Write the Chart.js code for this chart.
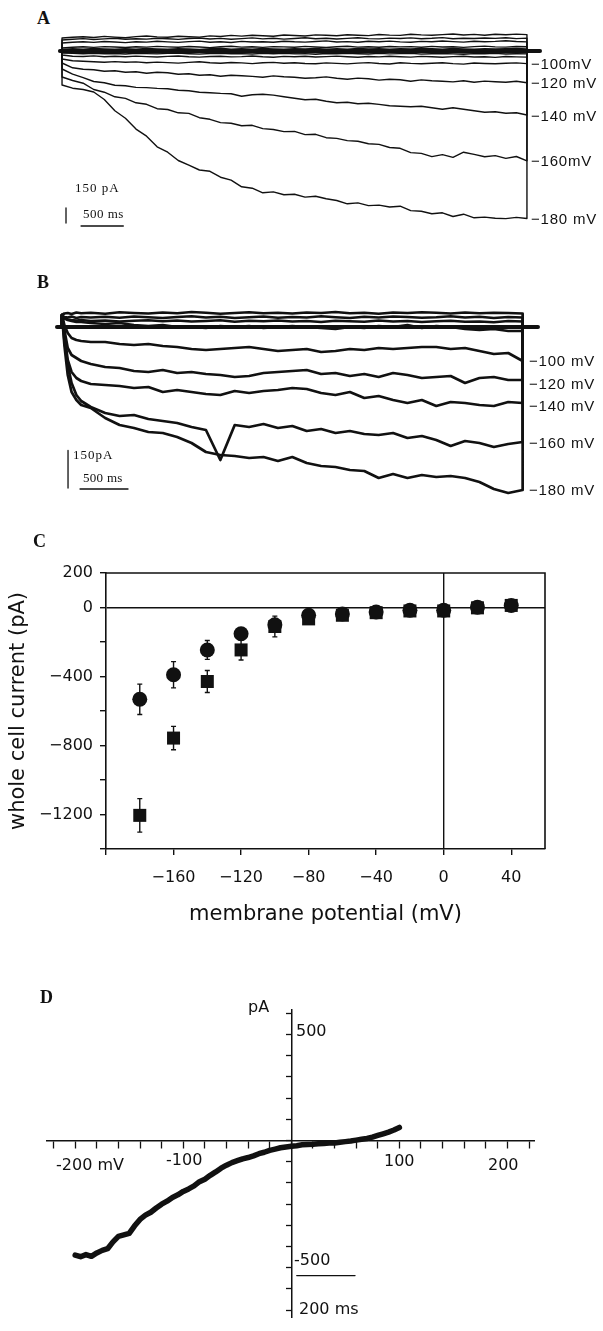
<!DOCTYPE html>
<html>
<head>
<meta charset="utf-8">
<script src="https://cdn.jsdelivr.net/npm/chart.js@4.4.1/dist/chart.umd.min.js"></script>
<style>
  html, body { margin: 0; padding: 0; background: #fff; }
  #page { position: relative; width: 603px; height: 1331px; overflow: hidden; background: #fff; }
  #page canvas { position: absolute; }
  .lbl { position: absolute; line-height: 1; white-space: nowrap; color: #111; }
  .panel { font: bold 18px "Liberation Serif", serif; }
  .mv { font: 15px "Liberation Sans", Arial, sans-serif; letter-spacing: 0.8px; }
  .bar { font: 13px "Liberation Serif", serif; letter-spacing: 1px; }
  .dj { font: 16px "DejaVu Sans", sans-serif; }
</style>
</head>
<body>
<div id="page">
  <canvas id="chartA" width="500" height="205" style="left:54px;top:26px"></canvas>
  <canvas id="chartB" width="500" height="200" style="left:52px;top:300px"></canvas>
  <canvas id="chartC" width="603" height="374" style="left:0;top:555px"></canvas>
  <canvas id="chartD" width="489" height="328" style="left:46px;top:1000px"></canvas>

  <div class="lbl panel" style="left:37px;top:8px">A</div>
  <div class="lbl mv" style="left:531px;top:55px">−100mV</div>
  <div class="lbl mv" style="left:531px;top:74px">−120 mV</div>
  <div class="lbl mv" style="left:531px;top:107px">−140 mV</div>
  <div class="lbl mv" style="left:531px;top:152px">−160mV</div>
  <div class="lbl mv" style="left:531px;top:210px">−180 mV</div>
  <div class="lbl bar" style="left:75px;top:180px">150 pA</div>
  <div class="lbl bar" style="left:83px;top:206px;letter-spacing:0.5px">500 ms</div>

  <div class="lbl panel" style="left:37px;top:272px">B</div>
  <div class="lbl mv" style="left:529px;top:352px">−100 mV</div>
  <div class="lbl mv" style="left:529px;top:375px">−120 mV</div>
  <div class="lbl mv" style="left:529px;top:397px">−140 mV</div>
  <div class="lbl mv" style="left:529px;top:434px">−160 mV</div>
  <div class="lbl mv" style="left:529px;top:481px">−180 mV</div>
  <div class="lbl bar" style="left:73px;top:447px">150pA</div>
  <div class="lbl bar" style="left:83px;top:470px;letter-spacing:0.3px">500 ms</div>

  <div class="lbl panel" style="left:33px;top:531px">C</div>

  <div class="lbl panel" style="left:40px;top:987px">D</div>
  <div class="lbl dj" style="left:248px;top:997px">pA</div>
  <div class="lbl dj" style="left:296px;top:1021px">500</div>
  <div class="lbl dj" style="left:294px;top:1250px">-500</div>
  <div class="lbl dj" style="left:56px;top:1155px">-200 mV</div>
  <div class="lbl dj" style="left:166px;top:1150px">-100</div>
  <div class="lbl dj" style="left:384px;top:1151px">100</div>
  <div class="lbl dj" style="left:488px;top:1155px">200</div>
  <div class="lbl dj" style="left:299px;top:1299px">200 ms</div>
</div>

<script>
// ---- panel A: currents (pA) sampled every 125 ms during the voltage step ----
const HOLD = 0;
const TIME_A = [0, 125, 250, 375, 500, 625, 750, 875, 1000, 1125, 1250, 1375, 1500, 1625, 1750,
  1875, 2000, 2125, 2250, 2375, 2500, 2625, 2750, 2875, 3000, 3125, 3250, 3375, 3500, 3625, 3750,
  3875, 4000, 4125, 4250, 4375, 4500, 4625, 4750, 4875, 5000, 5125, 5250, 5375, 5500];
const A_UP4 = [130, 138, 142, 135, 146, 139, 133, 144, 150, 141, 137, 148, 143, 139, 151, 145, 156, 149, 158, 152,
  147, 160, 155, 150, 161, 157, 152, 163, 158, 154, 165, 159, 156, 168, 161, 157, 164, 170, 160, 166, 158, 167, 162, 169, 164];
const A_UP3 = [110, 118, 124, 115, 121, 127, 117, 123, 119, 128, 122, 116, 125, 130, 120, 126, 118, 124, 131, 121,
  127, 119, 125, 132, 122, 128, 120, 126, 133, 124, 121, 129, 125, 131, 123, 127, 134, 122, 128, 125, 130, 126, 133, 124, 129];
const A_UP2 = [80, 88, 92, 86, 95, 90, 84, 93, 89, 97, 91, 86, 94, 99, 88, 92, 85, 96, 90, 93,
  87, 98, 92, 89, 95, 101, 90, 94, 88, 97, 93, 99, 91, 87, 96, 92, 100, 94, 89, 98, 93, 96, 102, 95, 91];
const A_UP1 = [30, 38, 42, 36, 44, 40, 35, 43, 39, 46, 41, 37, 45, 40, 34, 42, 47, 39, 43, 36,
  44, 41, 38, 46, 40, 35, 43, 48, 39, 42, 37, 45, 41, 44, 38, 46, 40, 43, 36, 44, 49, 41, 39, 45, 42];
const A_NEAR1 = [15, 22, 18, 25, 20, 17, 23, 19, 26, 21, 18, 24, 20, 16, 22, 27, 19, 23, 18, 25,
  21, 17, 24, 20, 26, 19, 22, 18, 25, 21, 23, 17, 24, 20, 26, 22, 18, 25, 21, 19, 24, 20, 23, 26, 21];
const A_NEAR2 = [-8, -13, -17, -11, -15, -19, -12, -16, -14, -18, -11, -15, -20, -13, -17, -12, -16, -19, -14, -10,
  -17, -15, -21, -13, -16, -18, -12, -15, -19, -14, -17, -11, -16, -20, -13, -18, -15, -12, -17, -19, -14, -16, -13, -18, -15];
const A_M60 = [-20, -24, -28, -22, -27, -25, -30, -23, -26, -29, -24, -21, -27, -31, -25, -22, -28, -26, -30, -24,
  -27, -23, -29, -26, -32, -25, -28, -22, -27, -30, -24, -29, -26, -23, -31, -27, -25, -29, -33, -26, -28, -24, -30, -27, -29];
const A_M80 = [-40, -52, -55, -49, -57, -53, -58, -51, -56, -60, -54, -50, -57, -61, -55, -52, -59, -56, -50, -58,
  -62, -54, -57, -53, -60, -56, -51, -58, -63, -55, -59, -52, -57, -61, -54, -58, -62, -56, -53, -60, -57, -64, -55, -59, -61];
const A_M100 = [-80, -98, -103, -108, -112, -106, -113, -109, -118, -111, -116, -121, -114, -108, -117, -122, -115, -119, -126, -118,
  -114, -123, -117, -125, -128, -119, -124, -129, -121, -116, -125, -130, -118, -124, -127, -122, -117, -126, -131, -120, -125, -128, -123, -119, -126];
const A_M120 = [-120, -168, -183, -188, -203, -198, -212, -207, -222, -213, -218, -232, -227, -243, -238, -252, -243, -248, -254, -262,
  -249, -258, -263, -272, -268, -259, -273, -282, -271, -278, -291, -282, -288, -302, -289, -298, -303, -309, -298, -312, -301, -308, -313, -302, -318];
const A_M140 = [-180, -232, -266, -305, -318, -343, -347, -364, -366, -374, -377, -393, -398, -412, -417, -424, -428, -452, -437, -433,
  -441, -458, -473, -487, -482, -503, -517, -512, -527, -522, -534, -547, -553, -558, -552, -568, -583, -567, -582, -598, -612, -607, -622, -617, -640];
const A_M160 = [-260, -295, -322, -385, -412, -458, -474, -518, -533, -577, -585, -618, -624, -667, -683, -716, -722, -748, -743, -776,
  -785, -806, -804, -836, -833, -867, -874, -896, -903, -927, -934, -965, -973, -1016, -1024, -1056, -1036, -1064, -1012, -1034, -1058, -1046, -1074, -1055, -1098];
const A_M180 = [-340, -372, -385, -410, -485, -598, -672, -781, -852, -958, -1012, -1095, -1142, -1190, -1203, -1262, -1291, -1358, -1372, -1418,
  -1409, -1438, -1432, -1461, -1452, -1478, -1495, -1528, -1519, -1546, -1541, -1560, -1552, -1596, -1603, -1628, -1618, -1655, -1632, -1668, -1661, -1672, -1676, -1664, -1675];
const A_HOLD_T = [-25, 5655];
const A_BAR_PA_T = [47, 47];
const A_BAR_PA_I = [-1570, -1720];
const A_BAR_MS_T = [225, 725];
const A_BAR_MS_I = [-1750, -1750];

// ---- panel B ----
const TIME_B = [0, 25, 60, 100, 150, 200, 300, 450, 600, 750, 900, 1050, 1200, 1350, 1500, 1650, 1800, 1950,
  2100, 2250, 2400, 2550, 2700, 2850, 3000, 3150, 3300, 3450, 3600, 3750, 3900, 4050, 4200, 4350, 4500, 4650, 4800];
const B_UP1 = [48, 54, 56, 52, 58, 55, 57, 53, 59, 56, 54, 58, 55, 60, 57, 53, 56, 59, 55, 57, 54, 58, 56, 60, 55, 57, 53, 58, 56, 59, 57, 54, 58, 55, 57, 56, 54];
const B_UP2 = [44, 40, 38, 42, 36, 40, 38, 41, 37, 42, 39, 36, 40, 43, 38, 41, 36, 39, 42, 37, 40, 38, 43, 39, 36, 41, 38, 42, 40, 37, 39, 43, 38, 41, 36, 40, 38];
const B_UP3 = [40, 34, 30, 28, 26, 28, 24, 26, 22, 25, 27, 23, 26, 22, 24, 27, 21, 25, 23, 26, 22, 24, 20, 25, 23, 21, 26, 22, 24, 20, 23, 25, 21, 22, 19, 24, 22];
const B_M80 = [48, 36, 28, 24, 20, 20, 16, 12, 16, 8, 4, 8, 0, 0, -4, 4, 0, 4, -4, 0, 4, 0, -4, -8, 0, -4, 4, 0, 8, -4, 4, 0, -8, -12, -8, -16, -16];
const B_M100 = [48, 8, -24, -44, -52, -56, -60, -60, -68, -72, -68, -76, -80, -88, -92, -88, -84, -80, -88, -96,
  -92, -88, -100, -96, -88, -92, -84, -88, -84, -80, -80, -88, -84, -96, -108, -104, -136];
const B_M120 = [48, -12, -84, -112, -124, -136, -148, -160, -164, -176, -180, -172, -184, -180, -188, -192, -200, -196, -184, -180,
  -176, -172, -188, -184, -196, -188, -200, -184, -192, -204, -200, -196, -224, -204, -200, -212, -212];
const B_M140 = [48, -32, -132, -180, -204, -216, -228, -232, -236, -244, -240, -260, -252, -260, -268, -272, -256, -264, -256, -252,
  -244, -248, -264, -272, -260, -284, -276, -292, -304, -292, -316, -300, -304, -312, -316, -300, -304];
const B_M160 = [48, -52, -152, -224, -272, -296, -320, -344, -356, -352, -368, -376, -384, -400, -412, -532, -392, -400, -388, -404,
  -396, -416, -408, -424, -416, -428, -432, -424, -444, -436, -452, -476, -456, -464, -480, -468, -460];
const B_M180 = [48, -72, -192, -260, -292, -312, -324, -364, -392, -404, -420, -424, -440, -464, -500, -512, -516, -524, -520, -536,
  -520, -544, -556, -560, -572, -576, -604, -588, -604, -592, -600, -596, -604, -620, -648, -664, -652];
const B_HOLD_T = [-52, 4960];
const B_BAR_PA_T = [63, 63];
const B_BAR_PA_I = [-494, -644];
const B_BAR_MS_T = [188, 688];
const B_BAR_MS_I = [-648, -648];

// ---- panel C: steady-state I-V ----
const C_V = [-180, -160, -140, -120, -100, -80, -60, -40, -20, 0, 20, 40];
const C_I_CIRCLE = [-532, -390, -246, -152, -100, -45, -38, -26, -16, -16, 2, 12];
const C_ERR_CIRCLE = [88, 76, 55, 10, 10, 10, 8, 8, 8, 8, 8, 8];
const C_I_SQUARE = [-1205, -757, -429, -246, -110, -66, -45, -30, -20, -20, -2, 12];
const C_ERR_SQUARE = [97, 68, 64, 58, 60, 12, 8, 8, 8, 8, 8, 8];
const C_X_LABELS = [-160, -120, -80, -40, 0, 40];
const C_Y_LABELS = [200, 0, -400, -800, -1200];

// ---- panel D: ramp I-V ----
const D_MV = [-200, -195, -190, -185, -180, -175, -170, -165, -160, -155, -150, -145, -140, -135, -130, -125, -120, -115, -110, -105,
  -100, -95, -90, -85, -80, -75, -70, -65, -60, -55, -50, -45, -40, -35, -30, -25, -20, -15, -10, -5,
  0, 5, 10, 15, 20, 25, 30, 35, 40, 45, 50, 55, 60, 65, 70, 75, 80, 85, 90, 95, 100];
const D_PA = [-540, -548, -538, -546, -530, -518, -510, -478, -452, -445, -438, -402, -372, -352, -338, -318, -300, -286, -268, -256,
  -240, -228, -214, -194, -182, -164, -148, -130, -116, -104, -95, -86, -80, -72, -62, -55, -46, -40, -34, -30,
  -27, -24, -20, -18, -17, -15, -14, -12, -11, -8, -5, -2, 2, 6, 10, 16, 24, 32, 40, 50, 62];
const D_BAR_X = [5, 59];
const D_BAR_Y = [-637, -637];

const INK = "#111";
Chart.defaults.font.family = '"DejaVu Sans", sans-serif';
Chart.defaults.color = INK;
Chart.defaults.animation = false;
Chart.defaults.plugins.legend.display = false;
Chart.defaults.plugins.tooltip.enabled = false;

function pairs(xs, ys) {
  return xs.map((x, i) => ({ x, y: ys[i] }));
}

// step from holding level, the recorded trace, then back to holding at the end
function stepTrace(times, values) {
  const end = times[times.length - 1];
  return [{ x: times[0], y: HOLD }, ...pairs(times, values), { x: end, y: HOLD }];
}

function line(data, width) {
  return { data, borderColor: INK, borderWidth: width, pointRadius: 0, tension: 0, fill: false,
    borderJoinStyle: "round", borderCapStyle: "round" };
}

function traceChart(id, times, traces, width, holdT, bars, xr, yr) {
  const datasets = traces.map((vals) => line(stepTrace(times, vals), width));
  datasets.push(line(pairs(holdT, [HOLD, HOLD]), 4));
  bars.forEach((b) => datasets.push(line(pairs(b[0], b[1]), 1.3)));
  return new Chart(document.getElementById(id), {
    type: "line",
    data: { datasets },
    options: {
      responsive: false,
      devicePixelRatio: 1,
      layout: { padding: 0 },
      scales: {
        x: { type: "linear", display: false, min: xr[0], max: xr[1] },
        y: { type: "linear", display: false, min: yr[0], max: yr[1] },
      },
    },
  });
}

traceChart("chartA", TIME_A,
  [A_UP4, A_UP3, A_UP2, A_UP1, A_NEAR1, A_NEAR2, A_M60, A_M80, A_M100, A_M120, A_M140, A_M160, A_M180],
  1.4, A_HOLD_T, [[A_BAR_PA_T, A_BAR_PA_I], [A_BAR_MS_T, A_BAR_MS_I]], [-95, 5820], [-1800, 250]);

traceChart("chartB", TIME_B,
  [B_UP1, B_UP2, B_UP3, B_M80, B_M100, B_M120, B_M140, B_M160, B_M180],
  2.7, B_HOLD_T, [[B_BAR_PA_T, B_BAR_PA_I], [B_BAR_MS_T, B_BAR_MS_I]], [-104, 5106], [-692, 108]);

const errorBars = {
  id: "errorBars",
  beforeDatasetsDraw(chart, args, opts) {
    const { ctx, scales: { x, y } } = chart;
    ctx.save();
    ctx.strokeStyle = INK;
    ctx.lineWidth = 1.4;
    (opts.series || []).forEach((s) => {
      s.x.forEach((v, i) => {
        const px = x.getPixelForValue(v);
        const top = y.getPixelForValue(s.y[i] + s.err[i]);
        const bot = y.getPixelForValue(s.y[i] - s.err[i]);
        ctx.beginPath();
        ctx.moveTo(px, top); ctx.lineTo(px, bot);
        ctx.moveTo(px - 2.5, top); ctx.lineTo(px + 2.5, top);
        ctx.moveTo(px - 2.5, bot); ctx.lineTo(px + 2.5, bot);
        ctx.stroke();
      });
    });
    ctx.restore();
  },
};

const frame = {
  id: "frame",
  afterDatasetsDraw(chart) {
    const { ctx, chartArea: a } = chart;
    ctx.save();
    ctx.strokeStyle = INK;
    ctx.lineWidth = 1.6;
    ctx.beginPath();
    ctx.moveTo(a.left, a.top); ctx.lineTo(a.right, a.top); ctx.lineTo(a.right, a.bottom);
    ctx.stroke();
    ctx.restore();
  },
};

function signed(v) {
  return v < 0 ? "\u2212" + Math.abs(v) : String(v);
}

const zeroGrid = {
  color: (c) => (c.tick && c.tick.value === 0 ? INK : "rgba(0,0,0,0)"),
  lineWidth: 1.4,
  drawTicks: true,
  tickLength: 6,
  tickColor: INK,
  tickWidth: 1.4,
};

new Chart(document.getElementById("chartC"), {
  type: "scatter",
  data: {
    datasets: [
      { data: pairs(C_V, C_I_SQUARE), pointStyle: "rect", pointRadius: 9.2, backgroundColor: INK, borderWidth: 0 },
      { data: pairs(C_V, C_I_CIRCLE), pointStyle: "circle", pointRadius: 7.5, backgroundColor: INK, borderWidth: 0 },
    ],
  },
  plugins: [errorBars, frame],
  options: {
    responsive: false,
    devicePixelRatio: 1,
    layout: { padding: { top: 18, right: 58, left: 0, bottom: 0 } },
    plugins: {
      errorBars: { series: [
        { x: C_V, y: C_I_CIRCLE, err: C_ERR_CIRCLE },
        { x: C_V, y: C_I_SQUARE, err: C_ERR_SQUARE },
      ] },
    },
    scales: {
      x: {
        type: "linear", min: -200, max: 60,
        afterFit: (s) => { s.height = 80; },
        border: { display: true, color: INK, width: 1.6 },
        grid: zeroGrid,
        ticks: { stepSize: 40, includeBounds: false, autoSkip: false, maxRotation: 0, padding: 13,
          font: { size: 16 }, callback: (v) => (C_X_LABELS.includes(v) ? signed(v) : "") },
        title: { display: true, text: "membrane potential (mV)", font: { size: 21 }, padding: { top: 0, bottom: 2 } },
      },
      y: {
        type: "linear", min: -1400, max: 200,
        afterFit: (s) => { s.width = 106; },
        border: { display: true, color: INK, width: 1.6 },
        grid: zeroGrid,
        ticks: { stepSize: 200, autoSkip: false, padding: 7, font: { size: 16 },
          callback: (v) => (C_Y_LABELS.includes(v) ? signed(v) : "") },
        title: { display: true, text: "whole cell current (pA)", font: { size: 21 }, padding: { top: 6, bottom: 0 } },
      },
    },
  },
});

const axisGrid = (len) => ({
  drawOnChartArea: false, drawTicks: true, tickLength: len, tickColor: INK, tickWidth: 1.3,
});

new Chart(document.getElementById("chartD"), {
  type: "line",
  data: {
    datasets: [
      line(pairs(D_MV, D_PA), 5.5),
      line(pairs(D_BAR_X, D_BAR_Y), 1.2),
    ],
  },
  options: {
    responsive: false,
    devicePixelRatio: 1,
    layout: { padding: 0 },
    scales: {
      x: {
        type: "linear", min: -227, max: 225.5, position: { y: 0 },
        border: { display: true, color: INK, width: 1.5 },
        grid: axisGrid(7),
        ticks: { stepSize: 20, includeBounds: false, autoSkip: false, callback: () => "" },
      },
      y: {
        type: "linear", min: -836, max: 615, position: { x: 0 },
        border: { display: true, color: INK, width: 1.5 },
        grid: axisGrid(5),
        ticks: { stepSize: 100, includeBounds: false, autoSkip: false, callback: () => "" },
      },
    },
  },
});
</script>
</body>
</html>
